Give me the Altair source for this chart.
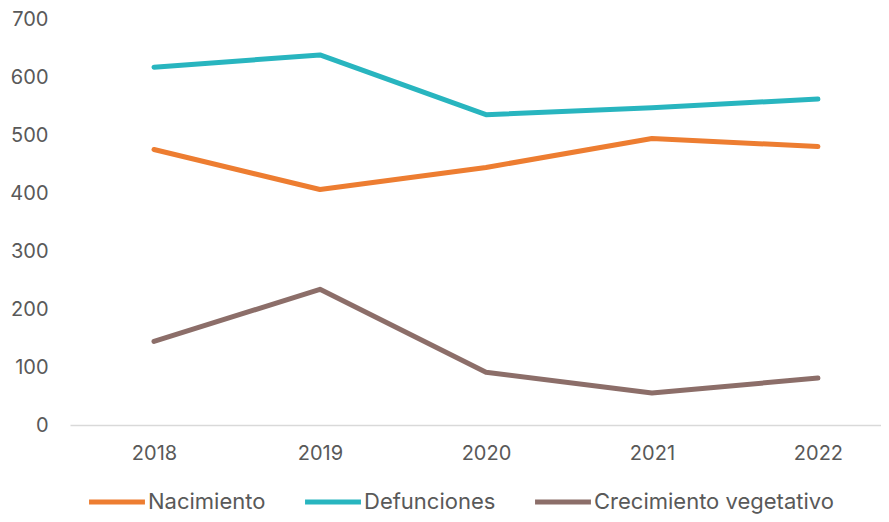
import altair as alt
import pandas as pd

years = [2018, 2019, 2020, 2021, 2022]
nacimiento = [475, 406, 444, 494, 480]
defunciones = [617, 638, 535, 547, 562]
crecimiento = [144, 234, 91, 55, 81]

series_names = ["Nacimiento", "Defunciones", "Crecimiento vegetativo"]
colors = ["#ED7D31", "#28B5BF", "#8C6E69"]

rows = []
for name, vals in zip(series_names, [nacimiento, defunciones, crecimiento]):
    for y, v in zip(years, vals):
        rows.append({"Año": y, "Valor": v, "Serie": name})
df = pd.DataFrame(rows)

FONT = "Inter"

chart = alt.Chart(df).mark_line(strokeWidth=5, strokeCap="round", strokeJoin="round").encode(
    x=alt.X("Año:Q",
            scale=alt.Scale(domain=[2017.494, 2022.38], nice=False, zero=False),
            axis=alt.Axis(values=years, format="d", title=None, ticks=False, grid=False,
                          domainColor="#D9D9D9", domainWidth=1.5,
                          labelFont=FONT, labelFontSize=20, labelColor="#595959",
                          labelPadding=18)),
    y=alt.Y("Valor:Q",
            scale=alt.Scale(domain=[0, 700], nice=False),
            axis=alt.Axis(values=[0, 100, 200, 300, 400, 500, 600, 700], title=None,
                          ticks=False, grid=False, domain=False,
                          labelFont=FONT, labelFontSize=20, labelColor="#595959",
                          labelPadding=22)),
    color=alt.Color("Serie:N",
                    scale=alt.Scale(domain=series_names, range=colors),
                    sort=series_names,
                    legend=alt.Legend(title=None, orient="none", direction="horizontal",
                                      legendX=36, legendY=472,
                                      symbolType="M-5,0H5", symbolSize=125,
                                      symbolStrokeWidth=5, labelFont=FONT,
                                      labelFontSize=22, labelColor="#595959",
                                      labelOffset=20, labelLimit=0,
                                      columnPadding=29, padding=0)),
).properties(
    width=811, height=406,
    autosize=alt.AutoSizeParams(type="none"),
    padding={"left": 62, "top": 11, "right": 0, "bottom": 89},
).configure_view(stroke=None)

chart.save("out.html", embed_options={"renderer": "svg", "actions": False})
